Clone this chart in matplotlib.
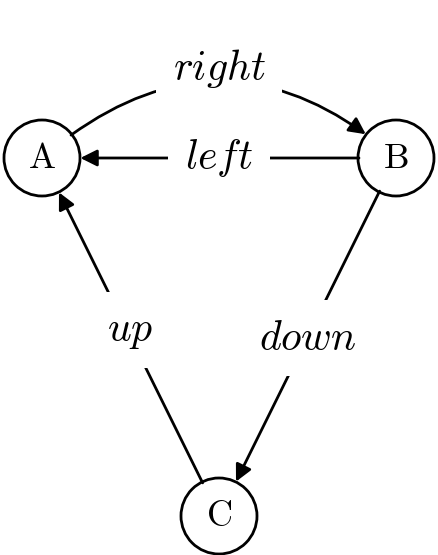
import matplotlib.pyplot as plt
from matplotlib.patches import Circle, FancyArrowPatch

plt.rcParams['mathtext.fontset'] = 'cm'

names = ['A', 'B', 'C']
xs = [42, 396, 219]
ys = [158, 158, 516]
edges = [('A', 'B', 'right', -0.43), ('B', 'A', 'left', 0.0),
         ('B', 'C', 'down', 0.0), ('C', 'A', 'up', 0.0)]
label_pos = {'right': (219, 68), 'left': (219, 158), 'down': (308, 338), 'up': (130, 330)}

fig = plt.figure(figsize=(4.38, 5.55), dpi=100)
ax = fig.add_axes([0, 0, 1, 1])
ax.set_xlim(0, 438)
ax.set_ylim(555, 0)
ax.set_aspect('equal')
ax.axis('off')

circles = {}
for n, x, y in zip(names, xs, ys):
    c = Circle((x, y), 38, fill=False, lw=2, color='black', zorder=3)
    ax.add_patch(c)
    circles[n] = c
    ax.text(x, y, r'$\mathrm{%s}$' % n, fontsize=26, ha='center', va='center')

pos = dict(zip(names, zip(xs, ys)))
for a, b, lab, rad in edges:
    arr = FancyArrowPatch(pos[a], pos[b], patchA=circles[a], patchB=circles[b],
                          connectionstyle='arc3,rad=%s' % rad,
                          arrowstyle='-|>,head_length=10,head_width=5',
                          lw=2, color='black', shrinkA=0, shrinkB=1, zorder=1)
    ax.add_patch(arr)
    lx, ly = label_pos[lab]
    ax.text(lx, ly, r'$%s$' % lab, fontsize=30, ha='center', va='center', zorder=2,
            bbox=dict(facecolor='white', edgecolor='none', pad=12))

fig.savefig('out.png', dpi=100)
